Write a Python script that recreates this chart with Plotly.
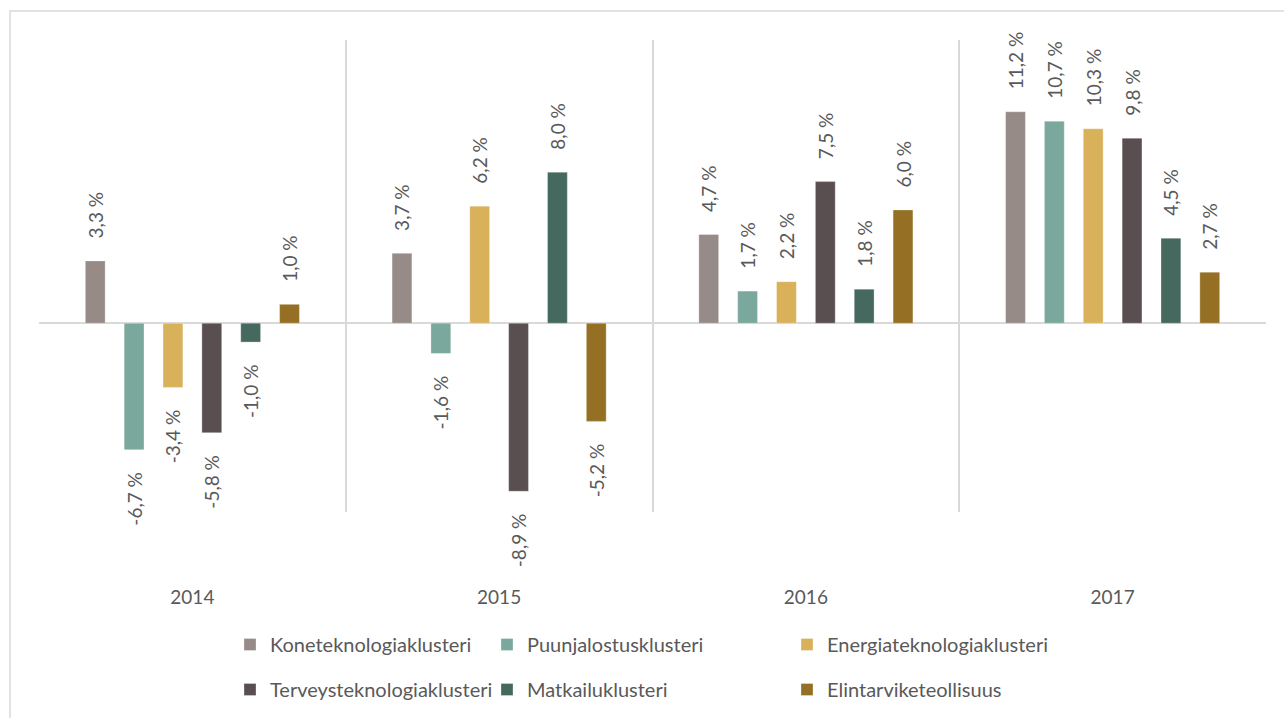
import plotly.graph_objects as go

years = ["2014", "2015", "2016", "2017"]
series_names = [
    "Koneteknologiaklusteri",
    "Puunjalostusklusteri",
    "Energiateknologiaklusteri",
    "Terveysteknologiaklusteri",
    "Matkailuklusteri",
    "Elintarviketeollisuus",
]
kone = [3.3, 3.7, 4.7, 11.2]
puunjalostus = [-6.7, -1.6, 1.7, 10.7]
energia = [-3.4, 6.2, 2.2, 10.3]
terveys = [-5.8, -8.9, 7.5, 9.8]
matkailu = [-1.0, 8.0, 1.8, 4.5]
elintarvike = [1.0, -5.2, 6.0, 2.7]

values = [kone, puunjalostus, energia, terveys, matkailu, elintarvike]
colors = ["#968b87", "#7aa89c", "#d9b15a", "#5a4f50", "#45695f", "#957024"]
legend_ids = ["legend", "legend2", "legend3", "legend", "legend2", "legend3"]

FONT = "Lato, 'Noto Sans', sans-serif"
TXT = "#595959"

W, H = 1284, 718
ML, MR, MT, MB = 39, 18, 40, 206
PW = W - ML - MR
PH = H - MT - MB

PAD = "\u00a0" * 4  # visual gap between bar end and its label


def px_x(px):
    return (px - ML) / PW


def px_y(py):
    return (H - MB - py) / PH


def fmt(v):
    s = f"{v:.1f} %".replace(".", ",")
    return PAD + s if v >= 0 else s + PAD


fig = go.Figure()
for i, (name, vals, col) in enumerate(zip(series_names, values, colors)):
    fig.add_trace(go.Bar(
        x=years, y=vals, name=name,
        marker=dict(color=col, line=dict(color="rgba(255,255,255,0.6)", width=0.5)),
        text=[fmt(v) for v in vals],
        textposition="outside",
        textangle=-90,
        constraintext="none",
        cliponaxis=False,
        textfont=dict(family=FONT, size=19, color=TXT),
        legend=legend_ids[i],
        legendgroup=name,
    ))

legend_common = dict(
    orientation="v",
    font=dict(family=FONT, size=20, color=TXT),
    bgcolor="rgba(0,0,0,0)",
    yanchor="top",
    xanchor="left",
    tracegroupgap=16,
    itemclick=False,
)
leg_y = px_y(625)
fig.update_layout(
    width=W, height=H,
    margin=dict(l=ML, r=MR, t=MT, b=MB, autoexpand=False),
    paper_bgcolor="white",
    plot_bgcolor="white",
    barmode="group",
    bargap=0.24,
    bargroupgap=0.49,
    showlegend=True,
    legend=dict(x=px_x(230), y=leg_y, **legend_common),
    legend2=dict(x=px_x(487), y=leg_y, **legend_common),
    legend3=dict(x=px_x(787), y=leg_y, **legend_common),
    xaxis=dict(
        type="category",
        tickson="boundaries",
        showgrid=True,
        gridcolor="#d9d9d9",
        gridwidth=1.5,
        showline=False,
        ticks="",
        ticklabelstandoff=72,
        tickfont=dict(family=FONT, size=19, color=TXT),
        range=[-0.5, 3.5],
        zeroline=False,
        automargin=False,
    ),
    yaxis=dict(
        range=[-10, 15],
        showgrid=False,
        showticklabels=False,
        zeroline=True,
        zerolinecolor="#d9d9d9",
        zerolinewidth=1.5,
        ticks="",
        automargin=False,
    ),
    shapes=[dict(
        type="rect", xref="paper", yref="paper",
        x0=px_x(10), x1=px_x(1300), y0=px_y(740), y1=px_y(11),
        line=dict(color="#d9d9d9", width=1.5),
        fillcolor="rgba(0,0,0,0)",
        layer="below",
    )],
)

fig.write_html(
    "out.html",
    config={"displayModeBar": False},
    post_script="document.body.style.margin='0';document.body.style.overflow='hidden';",
)
